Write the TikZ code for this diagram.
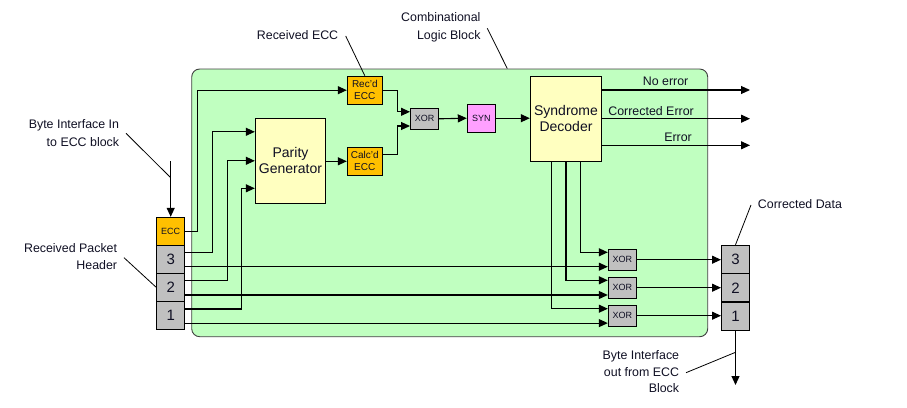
\documentclass[tikz,border=0pt]{standalone}
\usepackage{fontspec}
\setmainfont{Liberation Sans}
\usetikzlibrary{arrows.meta}
\definecolor{clbgreen}{RGB}{192,255,192}
\definecolor{eccorange}{RGB}{255,192,0}
\definecolor{boxgray}{RGB}{192,192,192}
\definecolor{boxyellow}{RGB}{255,255,192}
\definecolor{synpink}{RGB}{255,160,255}
\definecolor{txt}{RGB}{15,15,35}
\tikzset{
  blk/.style={draw=black, line width=1, inner sep=0, text=txt, align=center},
  smallfont/.style={font=\fontsize{9}{11}\selectfont},
  midfont/.style={font=\fontsize{10}{12}\selectfont},
  bigfont/.style={font=\fontsize{14}{15.7}\selectfont},
  numfont/.style={font=\fontsize{15}{16}\selectfont},
  lblfont/.style={font=\fontsize{12.4}{17.6}\selectfont, text=txt, inner sep=0, align=right},
  orangebox/.style={blk, fill=eccorange, minimum width=35, minimum height=28, midfont},
  xorbox/.style={blk, fill=boxgray, minimum width=28, minimum height=21, smallfont},
  cell/.style={blk, fill=boxgray, minimum width=28, minimum height=28, numfont},
  wire/.style={draw=black, line width=1.1},
  arr/.style={wire, -{Triangle[length=9,width=8]}},
  leader/.style={draw=black, line width=0.8}
}
\begin{document}
\begin{tikzpicture}[x=1pt,y=-1pt]
\useasboundingbox (0,0) rectangle (907,407);
% combinational logic block
\node[draw=black!75, line width=0.9, fill=clbgreen, rounded corners=8, minimum width=516, minimum height=267.7, inner sep=0] (clb) at (449.7,202.85) {};
% internal blocks
\node[orangebox] (recd) at (364.8,90.2) {Rec'd\\ECC};
\node[orangebox] (calcd) at (364.8,161.3) {Calc'd\\ECC};
\node[blk, fill=boxyellow, minimum width=70.4, minimum height=85, bigfont] (par) at (290.5,160.8) {Parity\\Generator};
\node[xorbox] (xor1) at (424.5,118.8) {XOR};
\node[blk, fill=synpink, minimum width=28, minimum height=28, smallfont] (syn) at (481.3,118.2) {SYN};
\node[blk, fill=boxyellow, minimum width=71.4, minimum height=85, bigfont] (dec) at (566,118.5) {Syndrome\\Decoder};
% left stack
\node[blk, fill=eccorange, minimum width=28, minimum height=28, smallfont] (ecc) at (170.7,231.3) {ECC};
\node[cell] (s3) at (170.7,259.3) {3};
\node[cell] (s2) at (170.7,287.3) {2};
\node[cell] (s1) at (170.7,315.3) {1};
% output XORs
\node[xorbox, minimum height=20.7] (xo1) at (622.3,259.7) {XOR};
\node[xorbox, minimum height=20.7] (xo2) at (622.3,287.7) {XOR};
\node[xorbox, minimum height=20.7] (xo3) at (622.3,315.7) {XOR};
% right stack
\node[cell, minimum height=28.3] (r3) at (735.5,259.4) {3};
\node[cell, minimum height=28.3] (r2) at (735.5,287.8) {2};
\node[cell, minimum height=28.3] (r1) at (735.5,316.2) {1};
% inputs
\coordinate (inTop) at (170.7,161);
\draw[arr] (inTop) -- (ecc.north);
\draw[arr] (ecc.east) -- ++(12.6,0) |- (recd.west);
\draw[arr] ([yshift=7]s3.east) -- ++(27.6,0) |- ([yshift=29]par.west);
\draw[arr] ([yshift=7]s2.east) -- ++(42,0) |- (par.west);
\draw[arr] ([yshift=6.3]s1.east) -- ++(56.6,0) |- ([yshift=-27.5]par.west);
\draw[arr] ([yshift=-7.4]s3.east) -- ([yshift=-7.4]s3.east -| xo1.west);
\draw[arr] ([yshift=-7.7]s2.east) -- ([yshift=-7.7]s2.east -| xo2.west);
\draw[arr] ([yshift=-7.8]s1.east) -- ([yshift=-7.8]s1.east -| xo3.west);
% parity to calc'd, ECC compare
\draw[arr] (par.east |- calcd.west) -- (calcd.west);
\draw[arr] (recd.east) -- ++(14.4,0) |- ([yshift=7]xor1.west);
\draw[arr] ([yshift=7]calcd.east) -- ++(14.4,0) |- ([yshift=-7.2]xor1.west);
\draw[arr] (xor1.east) -- (syn.west);
\draw[arr] (syn.east) -- (syn.east -| dec.west);
% decoder outputs
\coordinate (oNo) at (750,90);
\coordinate (oCor) at (750,118.7);
\coordinate (oErr) at (750,145.3);
\draw[arr] (dec.east |- oNo) -- (oNo);
\draw[arr] (dec.east |- oCor) -- (oCor);
\draw[arr] (dec.east |- oErr) -- (oErr);
\node[lblfont, anchor=east] (tNo) at (688.5,81.7) {No error};
\node[lblfont, anchor=east] (tCor) at (694,111.2) {Corrected Error};
\node[lblfont, anchor=east] (tErr) at (692,137.5) {Error};
% decoder to output XORs
\draw[arr] ([xshift=14.7]dec.south) |- ([yshift=7.4]xo1.west);
\draw[arr] (dec.south) |- ([yshift=7.4]xo2.west);
\draw[arr] ([xshift=-14.3]dec.south) |- ([yshift=7]xo3.west);
\draw[arr] (xo1.east) -- (xo1.east -| r3.west);
\draw[arr] (xo2.east) -- (xo2.east -| r2.west);
\draw[arr] (xo3.east) -- (xo3.east -| r1.west);
% output
\coordinate (outEnd) at (735.5,385);
\draw[arr] (r1.south) -- (outEnd);
% annotations
\node[lblfont, anchor=west] (lRecv) at (256.7,35) {Received ECC};
\draw[leader] (345.7,36) -- (recd.north);
\node[lblfont, anchor=east] (lClb) at (480.7,27.2) {Combinational\\Logic Block};
\draw[leader] (487.3,28.3) -- ([xshift=57.6]clb.north);
\node[lblfont, anchor=east] (lIn) at (119.3,132.9) {Byte Interface In\\to ECC block};
\draw[leader] (126,133.3) -- (170.7,177.7);
\node[lblfont, anchor=east] (lHdr) at (117.3,256.5) {Received Packet\\Header};
\draw[leader] (124,257.7) -- (s2.west);
\node[lblfont, anchor=west] (lCd) at (757.7,204.3) {Corrected Data};
\draw[leader] (751,205) -- (r3.north);
\node[lblfont, anchor=east, font=\fontsize{12.4}{16.7}\selectfont] (lOut) at (679.3,371.7) {Byte Interface\\out from ECC\\Block};
\draw[leader] (686,372.7) -- (735.5,352.3);
\end{tikzpicture}
\end{document}
